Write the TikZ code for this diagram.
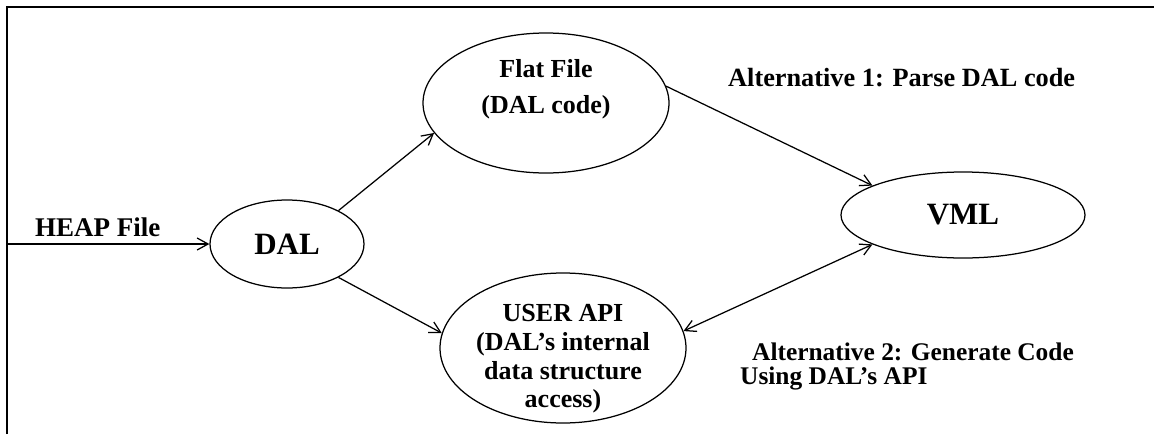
\documentclass[tikz,border=0pt]{standalone}
\usepackage{fontspec}
\setmainfont{Liberation Serif}
\usetikzlibrary{shapes.geometric,arrows.meta}

\tikzset{
  oval/.style={ellipse, draw, line width=1.25pt, inner sep=0pt},
  bigtxt/.style={font=\bfseries\fontsize{31}{36}\selectfont},
  ovaltxt/.style={align=center, inner sep=0pt},
  lbl/.style={font=\bfseries\fontsize{25.4}{29}\selectfont, inner sep=0pt, anchor=base west},
  barb/.style={Straight Barb[length=11pt,width=12pt,line width=1.25pt]},
  arr/.style={line width=1.25pt, -{Straight Barb[length=11pt,width=12pt,line width=1.25pt]}},
  arrboth/.style={line width=1.25pt, {Straight Barb[length=11pt,width=12pt,line width=1.25pt]}-{Straight Barb[length=11pt,width=12pt,line width=1.25pt]}},
  frame/.style={line width=1.5pt}
}

\begin{document}
\begin{tikzpicture}[x=1pt,y=-1pt]
\useasboundingbox (0,0) rectangle (1154,434);

% open frame: left and top edges
\draw[frame] (7,434) -- (7,7) -- (1154,7);

% ellipses
\node[oval, bigtxt, minimum width=154, minimum height=88] (dal) at (287,244) {DAL};
\node[oval, minimum width=246, minimum height=140] (flat) at (546,103) {};
\node[oval, bigtxt, minimum width=244, minimum height=86] (vml) at (963,215) {VML};
\node[oval, minimum width=246, minimum height=150] (user) at (563,348) {};

% text inside the two larger ellipses
\node[ovaltxt, font=\bfseries\fontsize{26}{36}\selectfont] (flattxt) at (546,89) {Flat File\\(DAL code)};
\node[ovaltxt, font=\bfseries\fontsize{26}{28.7}\selectfont] (usertxt) at (563,359) {USER API\\(DAL's internal\\data structure\\access)};

% free labels
\node[lbl, font=\bfseries\fontsize{27}{31}\selectfont] (heaplbl) at (35,236) {HEAP File};
\node[lbl, font=\bfseries\fontsize{26.3}{30}\selectfont] (alt1) at (728,86) {Alternative 1: Parse DAL code};
\node[lbl] (alt2a) at (752,360) {Alternative 2: Generate Code};
\node[lbl] (alt2b) at (740,384) {Using DAL's API};

% connectors
\coordinate (heapin) at (7,244);
\draw[arr] (heapin) -- (dal.west);
\draw[arr] (dal.33) -- (flat.195);
\draw[arr] (dal.-33) -- (user.173);
\draw[arr] (flat.8) -- (vml.162);
\draw[arrboth] (vml.198) -- (user.8);
\end{tikzpicture}
\end{document}
